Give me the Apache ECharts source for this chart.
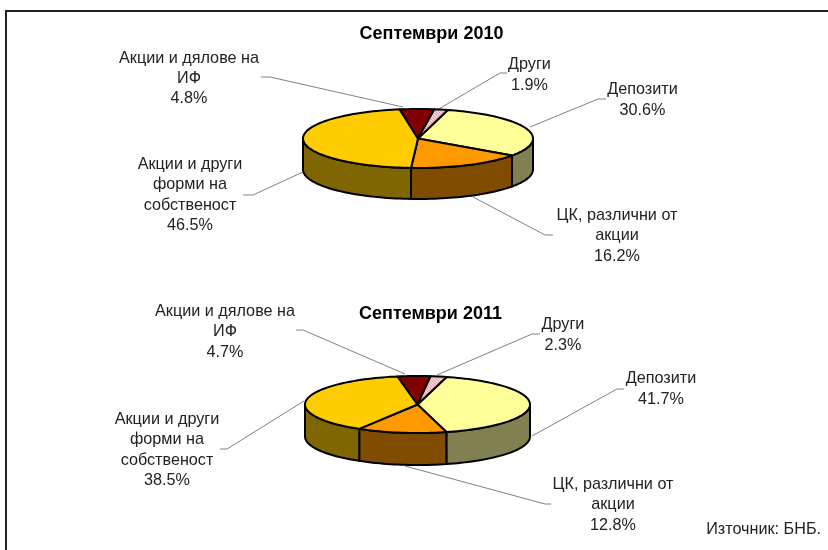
<!DOCTYPE html>
<html>
<head>
<meta charset="utf-8">
<style>html,body{margin:0;padding:0;background:#fff}#c{width:828px;height:550px}</style>
<script src="https://cdn.jsdelivr.net/npm/echarts@6/dist/echarts.min.js"></script>
</head>
<body>
<div id="c"></div>
<script>
// Data
const categories = [
  'Депозити',
  'ЦК, различни от\nакции',
  'Акции и други\nформи на\nсобственост',
  'Акции и дялове на\nИФ',
  'Други'
];
const titles = ['Септември 2010', 'Септември 2011'];
const values2010 = [30.6, 16.2, 46.5, 4.8, 1.9];
const values2011 = [41.7, 12.8, 38.5, 4.7, 2.3];
const sourceNote = 'Източник: БНБ.';

// Styles
const topColors = ['#FFFF99', '#FF9900', '#FFCC00', '#800000', null];
const wallColors = ['#808050', '#804D00', '#806600', '#400000', '#806666'];
const FONT = '"Liberation Sans", Arial, sans-serif';
const LABEL_FONT = '16.2px ' + FONT;

// Layout
const START_ANGLE = 15;
const pies = [
  { values: values2010, cx: 418, cy: 138.5, rx: 115, ry: 29.5, depth: 31,
    titleX: 431.5, titleY: 34,
    labelAt: [[642.5, 100], [617, 236], [190, 195], [189, 78.5], [529.5, 75]],
    lines: [
      [[606, 99], [598, 99], [530, 127]],
      [[553, 235], [545, 235], [473, 197]],
      [[243, 195], [253, 195], [303, 172]],
      [[261, 77], [270, 77], [403, 107]],
      [[507, 73], [500, 73], [437, 110]]
    ] },
  { values: values2011, cx: 417.5, cy: 404.5, rx: 112.5, ry: 28.5, depth: 32,
    titleX: 430.5, titleY: 314,
    labelAt: [[661, 389], [613, 505], [167, 450], [225, 332], [563, 335]],
    lines: [
      [[624, 389], [617, 389], [532, 436]],
      [[551, 504], [545, 504], [405, 466]],
      [[220, 449], [227, 449], [304, 401]],
      [[296, 330], [303, 330], [405, 374]],
      [[540, 334], [532, 334], [437, 375]]
    ] }
];

// Striped fill for the smallest slice
const stripe = document.createElement('canvas');
stripe.width = 3; stripe.height = 3;
(function () {
  const g = stripe.getContext('2d');
  g.fillStyle = '#FFF0F0'; g.fillRect(0, 0, 3, 3);
  g.strokeStyle = '#DD9A9A'; g.lineWidth = 1.2;
  g.beginPath(); g.moveTo(-1, -1); g.lineTo(4, 4); g.moveTo(-1, 2); g.lineTo(2, 5); g.moveTo(2, -1); g.lineTo(5, 2); g.stroke();
})();
const stripeFill = { image: stripe, repeat: 'repeat' };

function pt(p, deg, dy) {
  const a = deg * Math.PI / 180;
  return [p.cx + p.rx * Math.sin(a), p.cy - p.ry * Math.cos(a) + (dy || 0)];
}
function range(p, idx) {
  let s = START_ANGLE;
  for (let i = 0; i < idx; i++) s += p.values[i] * 3.6;
  return [s, s + p.values[idx] * 3.6];
}
function arc(p, a0, a1, dy) {
  const out = [], n = Math.max(2, Math.ceil(Math.abs(a1 - a0) / 2));
  for (let i = 0; i <= n; i++) out.push(pt(p, a0 + (a1 - a0) * i / n, dy));
  return out;
}
const outline = { stroke: '#000', lineWidth: 2, lineJoin: 'round' };

function wallSeries(p) {
  return {
    type: 'custom', coordinateSystem: 'none', silent: true, z: 3,
    data: p.values.map(v => [v]),
    renderItem(params) {
      const i = params.dataIndex, r = range(p, i);
      const polys = [];
      // Only the front half of the rim (90 to 270 degrees, and its wrap) is visible
      [[90, 270], [450, 630]].forEach(w => {
        const a0 = Math.max(r[0], w[0]), a1 = Math.min(r[1], w[1]);
        if (a1 > a0) polys.push(arc(p, a0, a1, 0).concat(arc(p, a1, a0, p.depth)));
      });
      return {
        type: 'group',
        children: polys.map(points => ({
          type: 'polygon', shape: { points },
          style: Object.assign({ fill: wallColors[i] }, outline)
        }))
      };
    }
  };
}
function topSeries(p) {
  return {
    type: 'custom', coordinateSystem: 'none', silent: true, z: 4,
    data: p.values.map(v => [v]),
    renderItem(params) {
      const i = params.dataIndex, r = range(p, i);
      return {
        type: 'polygon',
        shape: { points: [[p.cx, p.cy]].concat(arc(p, r[0], r[1], 0)) },
        style: Object.assign({ fill: topColors[i] || stripeFill }, outline)
      };
    }
  };
}

const graphics = [
  { type: 'polyline', z: 1, silent: true, shape: { points: [[6, 550], [6, 11], [828, 11]] },
    style: { fill: null, stroke: '#222', lineWidth: 2 } },
  { type: 'text', z: 6, silent: true, x: 821, y: 530,
    style: { text: sourceNote, font: LABEL_FONT, fill: '#222', align: 'right', verticalAlign: 'middle' } }
];
pies.forEach((p, k) => {
  graphics.push({ type: 'text', z: 6, silent: true, x: p.titleX, y: p.titleY,
    style: { text: titles[k], font: 'bold 18px ' + FONT, fill: '#000', align: 'center', verticalAlign: 'middle' } });
  p.values.forEach((v, i) => {
    graphics.push({ type: 'polyline', z: 2, silent: true, shape: { points: p.lines[i] },
      style: { fill: null, stroke: '#808080', lineWidth: 1 } });
    graphics.push({ type: 'text', z: 6, silent: true, x: p.labelAt[i][0], y: p.labelAt[i][1],
      style: { text: categories[i] + '\n' + v.toFixed(1) + '%', font: LABEL_FONT, lineHeight: 20.4,
        fill: '#222', align: 'center', verticalAlign: 'middle' } });
  });
});

const chart = echarts.init(document.getElementById('c'), null, { renderer: 'canvas' });
chart.setOption({
  animation: false,
  backgroundColor: '#fff',
  graphic: { elements: graphics },
  series: pies.flatMap(p => [wallSeries(p), topSeries(p)])
});
</script>
</body>
</html>
